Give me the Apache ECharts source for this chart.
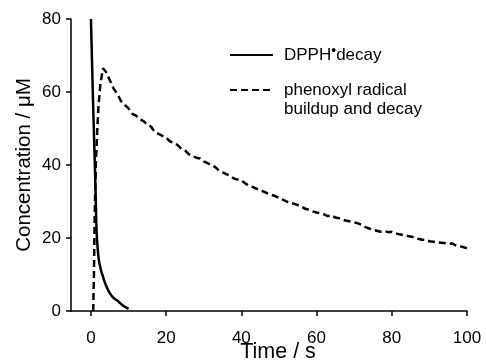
<!DOCTYPE html>
<html>
<head>
<meta charset="utf-8">
<script src="https://cdn.jsdelivr.net/npm/echarts@6/dist/echarts.min.js"></script>
<style>
  html, body { margin: 0; padding: 0; background: #fff; }
  #chart { width: 486px; height: 362px; }
</style>
</head>
<body>
<div id="chart"></div>
<script>
// DPPH decay + phenoxyl radical buildup
var xTicks = [0, 20, 40, 60, 80, 100];

var dpph = [
    [0, 80], [0.3, 68], [0.6, 56], [0.9, 45], [1.1, 38], [1.3, 30], [1.5, 22],
    [1.8, 17], [2.1, 14], [2.6, 11.5], [3.2, 9.4], [4, 7], [5, 4.9], [6, 3.6],
    [6.8, 3], [7.5, 2.4], [8.5, 1.5], [9.3, 1], [10, 0.6]
];

var phenoxyl = [
    [0.6, 0], [0.8, 10], [1.0, 26], [1.3, 40], [1.7, 50], [2.0, 56], [2.5, 62], [3.2, 66.5],
    [4, 65.5], [5, 63.3], [6, 61], [7, 59.5], [8, 57.5], [9, 56.5], [10, 55.5], [11, 54],
    [12, 53.5], [13, 52.5], [14, 52], [15, 51], [16, 50.5], [17, 49], [18, 48.5], [19, 48],
    [20, 47.5], [21, 46.5], [22, 46], [23, 45.5], [24, 44.5], [25, 44], [26, 43], [27, 42.5],
    [28, 42], [29, 41.8], [30, 41], [31, 40.5], [32, 40], [33, 39.5], [34, 38.5], [35, 38],
    [36, 37.5], [37, 37], [38, 36.3], [39, 36], [40, 35.8], [41, 35], [42, 34.3], [43, 34],
    [44, 33.5], [45, 33], [46, 32.7], [47, 32.2], [48, 31.8], [49, 31.5], [50, 31], [51, 30.5],
    [52, 30], [53, 29.6], [54, 29.4], [55, 29], [56, 28.6], [57, 28], [58, 27.7], [59, 27.3],
    [60, 27], [61, 26.8], [62, 26.5], [63, 26], [64, 26.2], [65, 25.6], [66, 25.4], [67, 25],
    [68, 24.7], [69, 24.5], [70, 24.3], [71, 24], [72, 23.6], [73, 23], [74, 22.6], [75, 22.2],
    [76, 22], [77, 21.7], [78, 21.9], [79, 21.6], [80, 21.7], [81, 21.3], [82, 21], [83, 20.8],
    [84, 20.6], [85, 20.4], [86, 20.2], [87, 19.8], [88, 19.5], [89, 19.5], [90, 19.1], [91, 19],
    [92, 18.8], [93, 18.7], [94, 18.6], [95, 18.4], [96, 18.5], [97, 18], [98, 17.8], [99, 17.5],
    [100, 17.2]
];

var font = 'Liberation Sans';
var chart = echarts.init(document.getElementById('chart'));

var option = {
    animation: false,
    backgroundColor: '#fff',
    grid: { left: 71, right: 19, top: 19, bottom: 51, outerBoundsMode: 'none' },
    legend: {
        orient: 'vertical',
        left: 229,
        top: 44,
        padding: 0,
        itemWidth: 43,
        itemHeight: 14,
        itemGap: -1,
        itemStyle: { opacity: 0 },
        data: ['dpph', 'phenoxyl'],
        formatter: function (name) {
            if (name === 'dpph') return '{p|DPPH}{s|•}{n|decay}';
            // empty first line keeps the icon level with "phenoxyl radical"
            return '{e| }\n{p|phenoxyl radical}\n{p|buildup and decay}';
        },
        textStyle: {
            fontFamily: font,
            fontSize: 17,
            color: '#000',
            rich: {
                p: { fontFamily: font, fontSize: 17, color: '#000', lineHeight: 19, padding: [0, 0, 0, 6] },
                n: { fontFamily: font, fontSize: 17, color: '#000', lineHeight: 19 },
                e: { fontSize: 17, lineHeight: 19 },
                s: { fontFamily: font, fontSize: 14, color: '#000', padding: [0, 0, 8, 0] }
            }
        }
    },
    xAxis: {
        type: 'value',
        min: -5.3,
        max: 100,
        name: 'Time / s',
        nameLocation: 'middle',
        nameGap: 30,
        nameMoveOverlap: false,
        nameTextStyle: { fontFamily: font, fontSize: 21.5, color: '#000', padding: [0, 0, 0, 18] },
        splitLine: { show: false },
        axisLine: { show: true, onZero: false, lineStyle: { color: '#000', width: 1.5 } },
        axisTick: { show: true, length: 5, customValues: xTicks, lineStyle: { color: '#000', width: 1.5 } },
        axisLabel: { customValues: xTicks, margin: 19, fontFamily: font, fontSize: 17, color: '#000' }
    },
    yAxis: {
        type: 'value',
        min: 0,
        max: 80,
        interval: 20,
        name: 'Concentration / μM',
        nameLocation: 'middle',
        nameGap: 36,
        nameMoveOverlap: false,
        nameTextStyle: { fontFamily: font, fontSize: 20.5, color: '#000' },
        splitLine: { show: false },
        axisLine: { show: true, onZero: false, lineStyle: { color: '#000', width: 1.5 } },
        axisTick: { show: true, length: 5, lineStyle: { color: '#000', width: 1.5 } },
        axisLabel: { margin: 10, fontFamily: font, fontSize: 17, color: '#000' }
    },
    series: [
        {
            name: 'dpph',
            type: 'line',
            data: dpph,
            symbol: 'none',
            smooth: 0.3,
            lineStyle: { color: '#000', width: 2.5 }
        },
        {
            name: 'phenoxyl',
            type: 'line',
            data: phenoxyl,
            symbol: 'none',
            lineStyle: { color: '#000', width: 2.5, type: [7, 4] }
        }
    ]
};
chart.setOption(option);
</script>
</body>
</html>
